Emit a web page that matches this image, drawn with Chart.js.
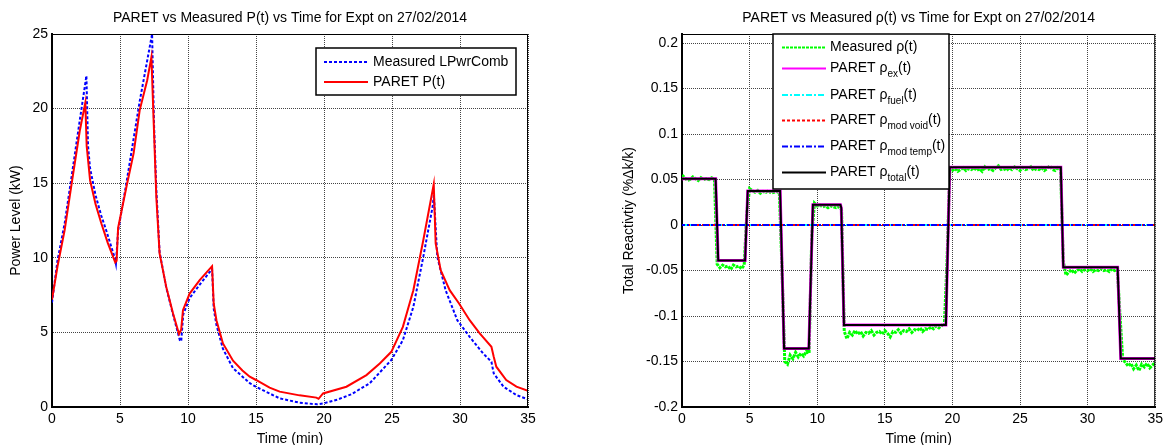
<!DOCTYPE html>
<html>
<head>
<meta charset="utf-8">
<script src="https://cdn.jsdelivr.net/npm/chart.js@4.4.0/dist/chart.umd.min.js"></script>
<style>
  html, body { margin: 0; padding: 0; background: #fff; overflow: hidden; }
  #powerChart { position: absolute; left: 0; top: 0; }
  #rhoChart { position: absolute; left: 583px; top: 0; }
</style>
</head>
<body>
<canvas id="powerChart" width="583" height="445"></canvas>
<canvas id="rhoChart" width="584" height="445"></canvas>
<script>
// ---- data ----
const timeTicks = [0, 5, 10, 15, 20, 25, 30, 35];
const powerTicks = [0, 5, 10, 15, 20, 25];
const rhoTicks = [-0.2, -0.15, -0.1, -0.05, 0, 0.05, 0.1, 0.15, 0.2];

// measured power (kW)
const pwrMeasTime = [0, 0.4, 0.93, 1.45, 2.04, 2.53, 2.65, 2.8, 3.2, 3.63, 4.0, 4.61, 4.7,
  4.86, 5.47, 6.45, 7.36, 7.5, 7.67, 7.91, 8.4, 8.9, 9.4, 9.5, 9.65, 10.12, 10.86, 11.77,
  11.89, 12.09, 12.57, 13.31, 14.54, 14.98, 16.74, 18.2, 19.5, 20, 21, 22, 23.35, 24.95,
  25.8, 26.57, 27.3, 27.98, 28.08, 28.33, 28.94, 29.8, 30.71, 31.7, 32.31, 32.48, 33.2,
  34.15, 35];
const pwrMeas = [7.0, 9.8, 12.3, 15.5, 19.2, 22.2, 17.5, 16.0, 14.2, 12.8, 11.8, 10.0, 9.6,
  11.8, 15.0, 20.5, 25.0, 19.0, 14.6, 10.4, 8.0, 6.2, 4.48, 4.4, 6.2, 7.3, 8.2, 9.25,
  6.6, 5.5, 3.9, 2.6, 1.6, 1.36, 0.58, 0.29, 0.18, 0.25, 0.5, 0.85, 1.58, 3.15,
  4.48, 6.71, 10.06, 13.4, 14.2, 10.06, 7.83, 5.82, 4.7, 3.59, 3.03, 2.25, 1.36,
  0.8, 0.51];

// PARET power (kW)
const pwrParetTime = [0, 0.4, 0.93, 1.45, 2.04, 2.45, 2.55, 2.8, 3.2, 3.63, 4.1, 4.65, 4.75,
  4.86, 5.47, 6.0, 6.45, 7.0, 7.31, 7.5, 7.67, 7.91, 8.4, 8.9, 9.34, 9.5, 9.63, 10.12,
  10.86, 11.77, 11.89, 12.09, 12.57, 13.31, 14.0, 14.54, 15.0, 16.0, 16.74, 18.2, 19.44,
  19.6, 19.93, 21.65, 23.12, 24.1, 24.95, 25.8, 26.57, 27.3, 28.07, 28.21, 28.58, 29.24,
  29.93, 30.71, 31.45, 32.31, 32.48, 32.67, 33.4, 34.15, 35];
const pwrParet = [7.2, 9.4, 11.85, 15.0, 18.5, 20.4, 17.5, 15.2, 13.6, 12.3, 11.0, 9.7, 9.8,
  12.0, 14.75, 17.0, 19.9, 21.9, 23.45, 18.5, 14.1, 10.3, 8.05, 6.27, 4.89, 5.2, 6.49, 7.6,
  8.5, 9.44, 6.94, 5.82, 4.26, 3.1, 2.45, 2.03, 1.81, 1.3, 1.03, 0.78, 0.63,
  0.55, 0.91, 1.36, 2.14, 2.92, 3.7, 5.37, 7.83, 11.18, 14.93, 10.96, 9.17, 7.83,
  6.94, 5.82, 4.93, 4.04, 3.37, 2.7, 1.81, 1.36, 1.08];

// measured reactivity (%dk/k)
const rhoMeasTime = [
  0, 0.2, 0.4, 0.6, 0.8,  1, 1.2, 1.4, 1.6, 1.8,  2, 2.2, 2.4, 2.6, 2.8,
  3, 3.2, 3.4, 3.6, 3.8,  4, 4.2, 4.4, 4.6, 4.8,  5, 5.2, 5.4, 5.6, 5.8,
  6, 6.2, 6.4, 6.6, 6.8,  7, 7.2, 7.4, 7.6, 7.8,  8, 8.2, 8.4, 8.6, 8.8,
  9, 9.2, 9.4, 9.6, 9.8,  10, 10.2, 10.4, 10.6, 10.8,  11, 11.2, 11.4, 11.6, 11.8,
  12, 12.2, 12.4, 12.6, 12.8,  13, 13.2, 13.4, 13.6, 13.8,  14, 14.2, 14.4, 14.6, 14.8,
  15, 15.2, 15.4, 15.6, 15.8,  16, 16.2, 16.4, 16.6, 16.8,  17, 17.2, 17.4, 17.6, 17.8,
  18, 18.2, 18.4, 18.6, 18.8,  19, 19.2, 19.4, 19.6, 19.8,  20, 20.2, 20.4, 20.6, 20.8,
  21, 21.2, 21.4, 21.6, 21.8,  22, 22.2, 22.4, 22.6, 22.8,  23, 23.2, 23.4, 23.6, 23.8,
  24, 24.2, 24.4, 24.6, 24.8,  25, 25.2, 25.4, 25.6, 25.8,  26, 26.2, 26.4, 26.6, 26.8,
  27, 27.2, 27.4, 27.6, 27.8,  28, 28.2, 28.4, 28.6, 28.8,  29, 29.2, 29.4, 29.6, 29.8,
  30, 30.2, 30.4, 30.6, 30.8,  31, 31.2, 31.4, 31.6, 31.8,  32, 32.2, 32.4, 32.6, 32.8,
  33, 33.2, 33.4, 33.6, 33.8,  34, 34.2, 34.4, 34.6, 34.8,  35];
const rhoMeas = [
  .055, .052, .049, .050, .053,  .051, .049, .052, .050, .051,  .050, .052, .050, -.043, -.047,
  -.044, -.046, -.045, -.049, -.044,  -.046, -.045, -.048, -.044, .015,  .040, .038, .036, .038, .035,
  .037, .036, .038, .035, .036,  .037, .035, -.050, -.150, -.153,  -.143, -.147, -.140, -.145, -.141,
  -.144, -.139, -.141, -.010, .024,  .021, .022, .020, .021, .019,  .021, .020, .019, .020, .017,
  -.117, -.125, -.118, -.121, -.116,  -.120, -.117, -.122, -.118, -.119,  -.116, -.121, -.118, -.117, -.120,
  -.116, -.119, -.123, -.117, -.118,  -.115, -.119, -.116, -.117, -.114,  -.118, -.115, -.116, -.113, -.117,
  -.114, -.115, -.112, -.114, -.111,  -.113, -.110, -.111, -.040, .058,  .060, .062, .059, .061, .063,
  .060, .062, .061, .063, .060,  .062, .059, .064, .061, .062,  .060, .063, .065, .061, .062,
  .060, .063, .061, .064, .062,  .060, .063, .061, .062, .064,  .060, .062, .061, .063, .060,
  .062, .065, .061, .060, .063,  .061, -.040, -.055, -.052, -.049,  -.053, -.050, -.048, -.051, -.049,
  -.050, -.048, -.051, -.049, -.050,  -.048, -.050, -.049, -.051, -.048,  -.050, -.049, -.100, -.148, -.151,
  -.155, -.152, -.158, -.154, -.160,  -.153, -.156, -.152, -.157, -.154,  -.151];

// PARET reactivity components
const rhoParetTime = [0, 2.49, 2.68, 4.67, 4.86, 7.26, 7.55, 9.38, 9.68, 11.72, 11.78, 11.98,
  19.52, 19.8, 28.02, 28.2, 32.22, 32.45, 35];
const rhoTotal = [0.051, 0.051, -0.039, -0.039, 0.0375, 0.0375, -0.1357, -0.1357, 0.0222, 0.0222,
  0.019, -0.110, -0.110, 0.0634, 0.0634, -0.0464, -0.0464, -0.1466, -0.1466];
const rhoEx = rhoTotal.slice();
const rhoZeroTime = [0, 35];
const rhoFuel = [0, 0];
const rhoModVoid = [0, 0];
const rhoModTemp = [0, 0];

// ---- helpers ----
Chart.defaults.font.family = "'Liberation Sans', Arial, Helvetica, sans-serif";
Chart.defaults.font.size = 14;
Chart.defaults.color = '#000';

function pts(xs, ys) {
  return xs.map((x, i) => ({ x: x, y: ys[i] }));
}

function drawSample(ctx, x1, x2, y, s) {
  ctx.save();
  ctx.strokeStyle = s.color;
  ctx.lineWidth = s.width;
  ctx.setLineDash(s.dash || []);
  ctx.beginPath();
  ctx.moveTo(x1, y);
  ctx.lineTo(x2, y);
  ctx.stroke();
  ctx.restore();
}

// title, top/right frame and MATLAB-like legend box
const framePlugin = {
  id: 'frame',
  afterDatasetsDraw(chart, args, opts) {
    const ctx = chart.ctx;
    const a = chart.chartArea;
    ctx.save();
    ctx.strokeStyle = '#000';
    ctx.lineWidth = 1;
    ctx.beginPath();
    ctx.moveTo(a.left, a.top + 0.5);
    ctx.lineTo(a.right - 0.5, a.top + 0.5);
    ctx.lineTo(a.right - 0.5, a.bottom);
    ctx.stroke();

    ctx.fillStyle = '#000';
    ctx.font = "14px 'Liberation Sans', Arial, sans-serif";
    ctx.textAlign = 'center';
    ctx.textBaseline = 'middle';
    ctx.fillText(opts.title, (a.left + a.right) / 2, 18);

    const lg = opts.legend;
    ctx.fillStyle = '#fff';
    ctx.fillRect(lg.x, lg.y, lg.w, lg.h);
    ctx.lineWidth = 1.5;
    ctx.strokeRect(lg.x, lg.y, lg.w, lg.h);
    ctx.textAlign = 'left';
    lg.rows.forEach(r => {
      drawSample(ctx, lg.x + lg.lineFrom, lg.x + lg.lineTo, r.y, r);
      let tx = lg.x + lg.textAt;
      r.parts.forEach(p => {
        ctx.fillStyle = '#000';
        if (p.sub) {
          ctx.font = "10px 'Liberation Sans', Arial, sans-serif";
          ctx.fillText(p.t, tx, r.y + 6);
        } else {
          ctx.font = "14px 'Liberation Sans', Arial, sans-serif";
          ctx.fillText(p.t, tx, r.y);
        }
        tx += ctx.measureText(p.t).width;
      });
    });
    ctx.restore();
  }
};

function axisX(height) {
  return {
    type: 'linear', min: 0, max: 35,
    afterBuildTicks: s => { s.ticks = timeTicks.map(v => ({ value: v })); },
    afterFit: s => { s.height = height; },
    grid: { color: '#444', drawTicks: false },
    border: { color: '#000', width: 2, dash: [1, 1] },
    ticks: { padding: 4, maxRotation: 0, autoSkip: false, callback: v => String(v) },
    title: { display: true, text: 'Time (min)', padding: { top: 0, bottom: -3 } }
  };
}

function axisY(min, max, tickList, width, label, titlePad) {
  return {
    type: 'linear', min: min, max: max,
    afterBuildTicks: s => { s.ticks = tickList.map(v => ({ value: v })); },
    afterFit: s => { s.width = width; },
    grid: { color: '#444', drawTicks: false },
    border: { color: '#000', width: 2, dash: [1, 1] },
    ticks: { padding: 4, autoSkip: false, callback: v => String(v) },
    title: { display: true, text: label, padding: { top: titlePad, bottom: 0 } }
  };
}

// ---- left: power ----
new Chart(document.getElementById('powerChart'), {
  type: 'line',
  data: {
    datasets: [
      { label: 'Measured LPwrComb', data: pts(pwrMeasTime, pwrMeas), borderColor: '#0000ff',
        borderWidth: 2, borderDash: [3, 2], order: 2 },
      { label: 'PARET P(t)', data: pts(pwrParetTime, pwrParet), borderColor: '#ff0000',
        borderWidth: 2, order: 1 }
    ]
  },
  options: {
    responsive: false,
    animation: false,
    layout: { padding: { left: 0, top: 34, right: 55, bottom: 0 } },
    elements: { point: { radius: 0 }, line: { tension: 0, fill: false } },
    plugins: {
      legend: { display: false },
      tooltip: { enabled: false },
      frame: {
        title: 'PARET vs Measured P(t) vs Time for Expt on 27/02/2014',
        legend: {
          x: 316, y: 48, w: 200, h: 47, lineFrom: 8, lineTo: 52, textAt: 57,
          rows: [
            { y: 62, color: '#0000ff', width: 2, dash: [3, 2], parts: [{ t: 'Measured LPwrComb' }] },
            { y: 82, color: '#ff0000', width: 2, parts: [{ t: 'PARET P(t)' }] }
          ]
        }
      }
    },
    scales: {
      x: axisX(38),
      y: axisY(0, 25, powerTicks, 52, 'Power Level (kW)', 8)
    }
  },
  plugins: [framePlugin]
});

// ---- right: reactivity ----
new Chart(document.getElementById('rhoChart'), {
  type: 'line',
  data: {
    datasets: [
      { label: 'Measured ρ(t)', data: pts(rhoMeasTime, rhoMeas), borderColor: '#00ff00',
        borderWidth: 3, borderDash: [3, 1], order: 6 },
      { label: 'PARET ρex(t)', data: pts(rhoParetTime, rhoEx), borderColor: '#ff00ff',
        borderWidth: 3, order: 5 },
      { label: 'PARET ρfuel(t)', data: pts(rhoZeroTime, rhoFuel), borderColor: '#00ffff',
        borderWidth: 2, borderDash: [6, 2, 2, 2], order: 4 },
      { label: 'PARET ρmod void(t)', data: pts(rhoZeroTime, rhoModVoid), borderColor: '#ff0000',
        borderWidth: 2, borderDash: [3, 2], order: 3 },
      { label: 'PARET ρmod temp(t)', data: pts(rhoZeroTime, rhoModTemp), borderColor: '#0000ff',
        borderWidth: 2, borderDash: [6, 2, 2, 2], borderDashOffset: 3, order: 2 },
      { label: 'PARET ρtotal(t)', data: pts(rhoParetTime, rhoTotal), borderColor: '#000000',
        borderWidth: 2, order: 1 }
    ]
  },
  options: {
    responsive: false,
    animation: false,
    layout: { padding: { left: 0, top: 34, right: 7, bottom: 0 } },
    elements: { point: { radius: 0 }, line: { tension: 0, fill: false } },
    plugins: {
      legend: { display: false },
      tooltip: { enabled: false },
      frame: {
        title: 'PARET vs Measured ρ(t) vs Time for Expt on 27/02/2014',
        legend: {
          x: 190, y: 34, w: 176, h: 155, lineFrom: 9, lineTo: 53, textAt: 57,
          rows: [
            { y: 47.5, color: '#00ff00', width: 2, dash: [3, 1],
              parts: [{ t: 'Measured ρ(t)' }] },
            { y: 68.5, color: '#ff00ff', width: 2,
              parts: [{ t: 'PARET ρ' }, { t: 'ex', sub: true }, { t: '(t)' }] },
            { y: 95, color: '#00ffff', width: 2, dash: [6, 2, 2, 2],
              parts: [{ t: 'PARET ρ' }, { t: 'fuel', sub: true }, { t: '(t)' }] },
            { y: 120.5, color: '#ff0000', width: 2, dash: [3, 2],
              parts: [{ t: 'PARET ρ' }, { t: 'mod void', sub: true }, { t: '(t)' }] },
            { y: 146.5, color: '#0000ff', width: 2, dash: [6, 2, 2, 2],
              parts: [{ t: 'PARET ρ' }, { t: 'mod temp', sub: true }, { t: '(t)' }] },
            { y: 172.5, color: '#000000', width: 2,
              parts: [{ t: 'PARET ρ' }, { t: 'total', sub: true }, { t: '(t)' }] }
          ]
        }
      }
    },
    scales: {
      x: axisX(38),
      y: axisY(-0.2, 0.21, rhoTicks, 99, 'Total Reactivtiy (%Δk/k)', 38)
    }
  },
  plugins: [framePlugin]
});
</script>
</body>
</html>
